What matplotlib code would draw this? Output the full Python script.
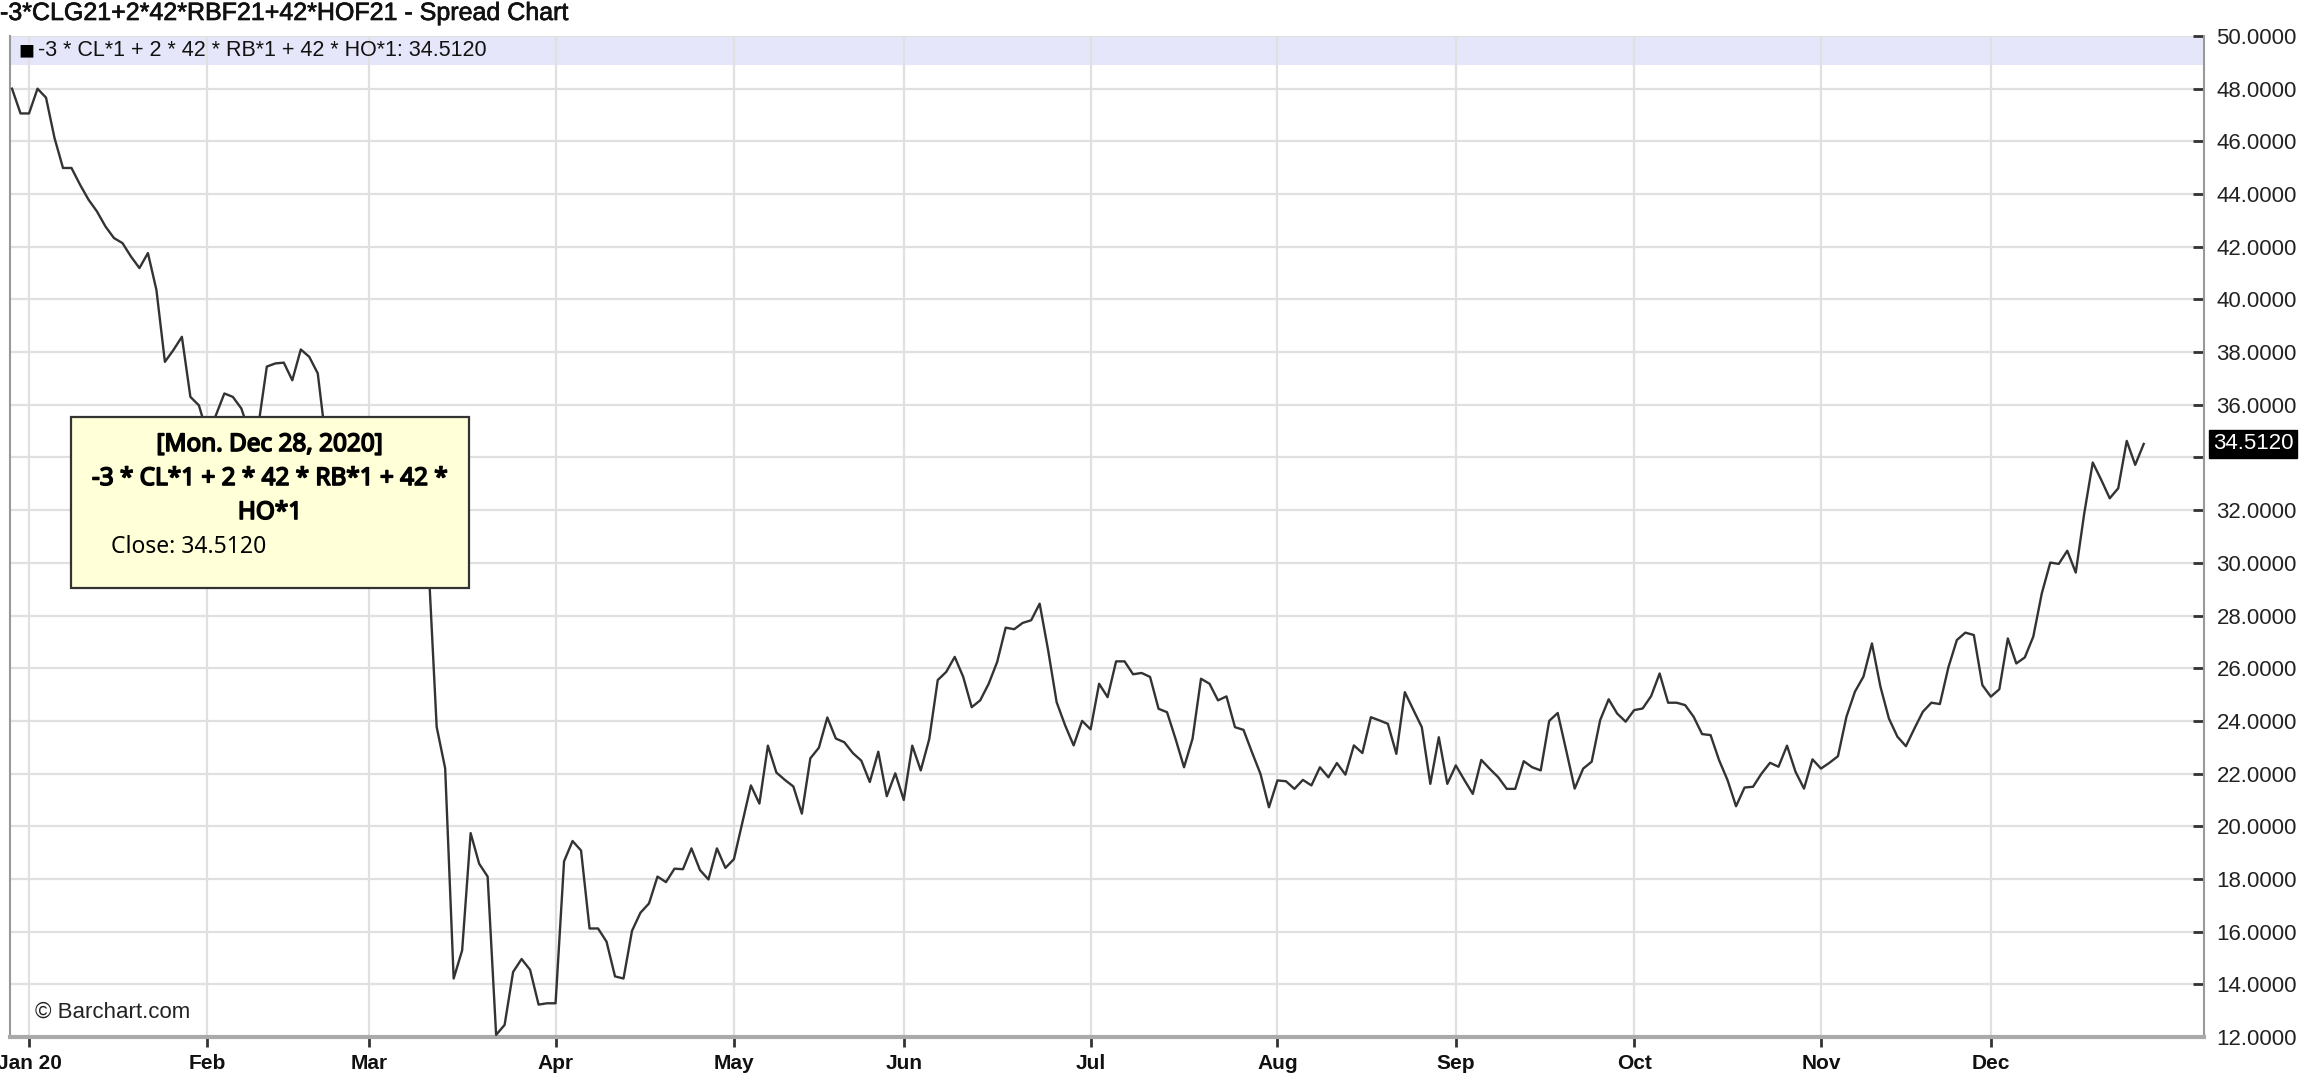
import numpy as np
import pandas as pd
import matplotlib
matplotlib.use('Agg')
import matplotlib.pyplot as plt
import matplotlib.transforms as mtransforms
import matplotlib.patheffects as pe
from matplotlib.patches import Rectangle
from matplotlib.ticker import FuncFormatter

# trading days shown (Dec 30 2019 .. Dec 28 2020)
holidays = ['2020-01-01', '2020-01-20', '2020-02-17', '2020-04-10', '2020-05-25',
            '2020-07-03', '2020-09-07', '2020-11-26', '2020-12-25']
dates = pd.bdate_range('2019-12-30', '2020-12-28', freq='C', holidays=holidays)

close = [
    48.00, 47.06, 47.06, 48.00, 47.66, 46.13, 44.99, 44.99, 44.36, 43.79,
    43.34, 42.77, 42.33, 42.14, 41.63, 41.19, 41.76, 40.36, 37.63, 38.08,
    38.58, 36.30, 35.98, 34.90, 35.60, 36.43, 36.30, 35.86, 34.90, 35.20,
    37.45, 37.57, 37.60, 36.93, 38.10, 37.82, 37.19, 34.50, 34.00, 33.20,
    32.60, 33.00, 32.40, 32.80, 32.00, 31.50, 31.20, 30.00, 30.60, 30.20,
    23.77, 22.20, 14.22, 15.29, 19.74, 18.58, 18.09, 12.08, 12.46, 14.47,
    14.96, 14.55, 13.23, 13.28, 13.28, 18.67, 19.44, 19.08, 16.12, 16.12,
    15.62, 14.30, 14.22, 16.03, 16.72, 17.07, 18.09, 17.88, 18.39, 18.37,
    19.16, 18.34, 17.98, 19.16, 18.42, 18.75, 20.15, 21.55, 20.86, 23.06,
    22.04, 21.76, 21.51, 20.48, 22.58, 22.98, 24.13, 23.33, 23.19, 22.78,
    22.49, 21.68, 22.83, 21.14, 22.01, 21.00, 23.06, 22.12, 23.31, 25.55,
    25.86, 26.43, 25.67, 24.52, 24.78, 25.41, 26.24, 27.54, 27.48, 27.72,
    27.82, 28.45, 26.68, 24.71, 23.83, 23.07, 24.00, 23.68, 25.41, 24.90,
    26.26, 26.26, 25.77, 25.82, 25.67, 24.46, 24.33, 23.32, 22.24, 23.32,
    25.60, 25.41, 24.78, 24.93, 23.76, 23.66, 22.81, 21.99, 20.72, 21.74,
    21.71, 21.42, 21.76, 21.55, 22.24, 21.86, 22.40, 21.96, 23.07, 22.78,
    24.14, 24.02, 23.89, 22.75, 25.09, 24.42, 23.76, 21.61, 23.38, 21.61,
    22.31, 21.76, 21.23, 22.52, 22.18, 21.86, 21.42, 21.42, 22.47, 22.24,
    22.12, 24.00, 24.30, 22.88, 21.43, 22.19, 22.45, 24.03, 24.82, 24.28,
    23.97, 24.41, 24.47, 24.94, 25.80, 24.69, 24.69, 24.60, 24.16, 23.50,
    23.46, 22.51, 21.75, 20.76, 21.47, 21.50, 22.00, 22.41, 22.26, 23.06,
    22.07, 21.43, 22.54, 22.19, 22.41, 22.66, 24.16, 25.11, 25.68, 26.94,
    25.30, 24.09, 23.40, 23.04, 23.71, 24.35, 24.69, 24.64, 26.03, 27.07,
    27.35, 27.26, 25.36, 24.92, 25.20, 27.13, 26.18, 26.41, 27.20, 28.84,
    30.01, 29.96, 30.46, 29.63, 31.88, 33.81, 33.15, 32.45, 32.83, 34.63,
    33.72, 34.512,
]

month_labels = ['Jan 20', 'Feb', 'Mar', 'Apr', 'May', 'Jun', 'Jul', 'Aug',
                'Sep', 'Oct', 'Nov', 'Dec']
y_ticks = np.arange(12, 51, 2)

title = '-3*CLG21+2*42*RBF21+42*HOF21 - Spread Chart'
legend_label = '-3 * CL*1 + 2 * 42 * RB*1 + 42 * HO*1'
tip_date = '[Mon. Dec 28, 2020]'
tip_lines = ['-3 * CL*1 + 2 * 42 * RB*1 + 42 *', 'HO*1']

n = min(len(dates), len(close))
dates = dates[:n]
close = np.array(close[:n])
x = np.arange(n)
last = close[-1]

# first trading day of each month of 2020
month_pos = [int(np.argmax((dates.year == 2020) & (dates.month == m))) for m in range(1, 13)]

narrow = ['Liberation Sans Narrow', 'Liberation Sans', 'DejaVu Sans']
arial = ['Liberation Sans', 'DejaVu Sans']
W, H = 2312, 1082

fig = plt.figure(figsize=(W / 100, H / 100), dpi=100)
ax = fig.add_axes([10 / W, 45 / H, 2194 / W, 1001 / H])

ax.plot(x, close, color='#333333', lw=1.7, zorder=3)
ax.set_xlim(-0.24, 258.1)
ax.set_ylim(12, 50)

ax.set_axisbelow(True)
ax.grid(True, color='#e0e0e0', lw=1.6)
ax.add_patch(Rectangle((0, 1 - 29 / 1001), 1, 29 / 1001, transform=ax.transAxes,
                       facecolor='#e6e6fa', edgecolor='none', zorder=0.4))

ax.set_xticks(month_pos)
ax.set_xticklabels(month_labels)
ax.set_yticks(y_ticks)
ax.yaxis.tick_right()
# the label under the last-price box is left out, as on the site
ax.yaxis.set_major_formatter(FuncFormatter(lambda v, p: '' if abs(v - last) < 1 else f'{v:.4f}'))

ax.tick_params(axis='y', direction='in', length=8, width=2, color='#333333',
               pad=9, labelsize=16, labelcolor='#222222')
ax.tick_params(axis='x', direction='out', length=7, width=2, color='#333333',
               pad=5, labelsize=15, labelcolor='#111111')
for lab in ax.get_yticklabels():
    lab.set_family(arial)
for lab in ax.get_xticklabels():
    lab.set_family(narrow)
    lab.set_fontweight('bold')

ax.spines['top'].set_visible(False)
ax.spines['left'].set_color('#999999')
ax.spines['left'].set_linewidth(1.5)
ax.spines['right'].set_color('#999999')
ax.spines['right'].set_linewidth(1.5)
ax.spines['bottom'].set_color('#aaaaaa')
ax.spines['bottom'].set_linewidth(3)

# last price box on the right axis
trans = mtransforms.blended_transform_factory(ax.transAxes, ax.transData)
trans = mtransforms.offset_copy(trans, fig=fig, x=9, y=0, units='dots')
ax.text(1.0, last, f'{last:.4f}', transform=trans, ha='left', va='center',
        color='white', fontsize=16, family=arial, clip_on=False,
        bbox=dict(facecolor='black', edgecolor='black', pad=2.5))

# title and legend strip
fig.text(0 / W, 1 - 13 / H, title, ha='left', va='center', fontsize=18,
         family=narrow, color='#111111',
         path_effects=[pe.withStroke(linewidth=0.5, foreground='#111111')])
fig.text(18 / W, 1 - 51 / H, '\u25a0', ha='left', va='center', fontsize=19,
         family=arial, color='#000000')
fig.text(38 / W, 1 - 51 / H, legend_label + f': {last:.4f}',
         ha='left', va='center', fontsize=15.5, family=narrow, color='#111111')

fig.text(35 / W, 1 - 1012 / H, '\u00a9 Barchart.com', ha='left', va='center',
         fontsize=16, family=narrow, color='#222222')

# tooltip
fig.add_artist(Rectangle((71 / W, 1 - 588 / H), 398 / W, 171 / H, transform=fig.transFigure,
                         facecolor='#ffffd8', edgecolor='#333333', lw=1.6, zorder=5))
tip_font = ['Noto Sans', 'DejaVu Sans']
fake_bold = [pe.withStroke(linewidth=1.2, foreground='black')]
for txt, yy in [(tip_date, 445), (tip_lines[0], 479), (tip_lines[1], 513)]:
    fig.text(270 / W, 1 - yy / H, txt, ha='center', va='center', fontsize=17.5,
             family=tip_font, fontweight='bold', zorder=6, path_effects=fake_bold)
fig.text(111 / W, 1 - 547 / H, f'Close: {last:.4f}', ha='left', va='center',
         fontsize=16.5, family=tip_font, zorder=6)

fig.savefig('out.png', dpi=100)
